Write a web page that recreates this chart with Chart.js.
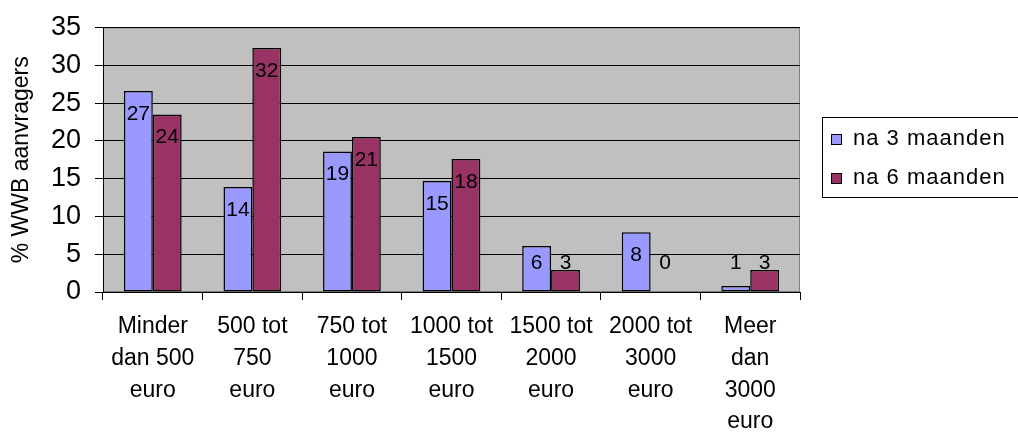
<!DOCTYPE html>
<html>
<head>
<meta charset="utf-8">
<script src="https://cdn.jsdelivr.net/npm/chart.js@4"></script>
<style>
  html, body { margin: 0; padding: 0; background: #fff; }
  #wrap { width: 1018px; height: 432px; }
</style>
</head>
<body>
<div id="wrap"><canvas id="chart" width="1018" height="432"></canvas></div>
<script>
const categories = [
  ['Minder', 'dan 500', 'euro'],
  ['500 tot', '750', 'euro'],
  ['750 tot', '1000', 'euro'],
  ['1000 tot', '1500', 'euro'],
  ['1500 tot', '2000', 'euro'],
  ['2000 tot', '3000', 'euro'],
  ['Meer', 'dan', '3000', 'euro']
]
const na3Maanden = [26.6, 13.9, 18.6, 14.7, 6.1, 7.9, 0.8]
const na6Maanden = [23.5, 32.3, 20.5, 17.6, 2.9, 0, 2.9]
const seriesNames = ['na 3 maanden', 'na 6 maanden']
const seriesColors = ['#9999FF', '#993366']

const FONT = '"Liberation Sans", Arial, sans-serif'

// grey plot background with grey frame
const plotBackground = {
  id: 'plotBackground',
  beforeDraw(chart) {
    const { ctx, chartArea: a } = chart
    ctx.save()
    ctx.fillStyle = '#C0C0C0'
    ctx.fillRect(a.left, a.top, a.right - a.left, a.bottom - a.top)
    ctx.strokeStyle = '#808080'
    ctx.lineWidth = 1
    ctx.strokeRect(a.left + 0.5, a.top + 0.5, a.right - a.left - 1, a.bottom - a.top - 1)
    ctx.restore()
  }
}

// rounded values inside the top of each bar
const barLabels = {
  id: 'barLabels',
  afterDatasetsDraw(chart) {
    const { ctx } = chart
    const base = chart.scales.y.getPixelForValue(0)
    ctx.save()
    ctx.font = '21px ' + FONT
    ctx.fillStyle = '#000'
    ctx.textAlign = 'center'
    ctx.textBaseline = 'middle'
    chart.data.datasets.forEach((ds, i) => {
      chart.getDatasetMeta(i).data.forEach((el, j) => {
        const y = Math.min(el.y + 23, base - 29)
        ctx.fillText(String(Math.round(ds.data[j])), el.x, y)
      })
    })
    ctx.restore()
  }
}

// boxed legend to the right
const boxLegend = {
  id: 'boxLegend',
  afterDraw(chart) {
    const { ctx } = chart
    ctx.save()
    ctx.strokeStyle = '#000'
    ctx.lineWidth = 1
    ctx.strokeRect(822.5, 117.5, 210, 80)
    ctx.font = '22px ' + FONT
    ctx.letterSpacing = '1px'
    ctx.textBaseline = 'middle'
    ctx.textAlign = 'left'
    chart.data.datasets.forEach((ds, i) => {
      const cy = 139 + i * 39
      ctx.fillStyle = ds.backgroundColor
      ctx.fillRect(831, cy - 5, 10, 10)
      ctx.strokeRect(831.5, cy - 4.5, 10, 10)
      ctx.fillStyle = '#000'
      ctx.fillText(ds.label, 853, cy)
    })
    ctx.restore()
  }
}

new Chart(document.getElementById('chart'), {
  type: 'bar',
  data: {
    labels: categories,
    datasets: [
      { label: seriesNames[0], data: na3Maanden, backgroundColor: seriesColors[0] },
      { label: seriesNames[1], data: na6Maanden, backgroundColor: seriesColors[1] }
    ].map(d => Object.assign(d, { borderColor: '#000', borderWidth: 1.5, borderSkipped: false }))
  },
  options: {
    responsive: false,
    animation: false,
    layout: { padding: { top: 12, right: 218, left: 0, bottom: 0 } },
    datasets: { bar: { categoryPercentage: 0.58, barPercentage: 1 } },
    plugins: { legend: { display: false }, tooltip: { enabled: false } },
    scales: {
      x: {
        afterFit: s => { s.height = 140 },
        grid: { drawOnChartArea: false, offset: true, color: '#000', tickLength: 8 },
        border: { color: '#000' },
        ticks: {
          autoSkip: false, maxRotation: 0, padding: 11, color: '#000',
          font: { family: FONT, size: 23, lineHeight: 1.38 }
        }
      },
      y: {
        min: 0, max: 35,
        afterFit: s => { s.width = 103 },
        grid: { color: '#000', tickLength: 8 },
        border: { color: '#000' },
        ticks: { stepSize: 5, padding: 14, color: '#000', font: { family: FONT, size: 27, lineHeight: 1 } },
        title: {
          display: true, text: '% WWB aanvragers', color: '#000',
          font: { family: FONT, size: 23 }, padding: { top: 8, bottom: 0 }
        }
      }
    }
  },
  plugins: [plotBackground, barLabels, boxLegend]
})
</script>
</body>
</html>
